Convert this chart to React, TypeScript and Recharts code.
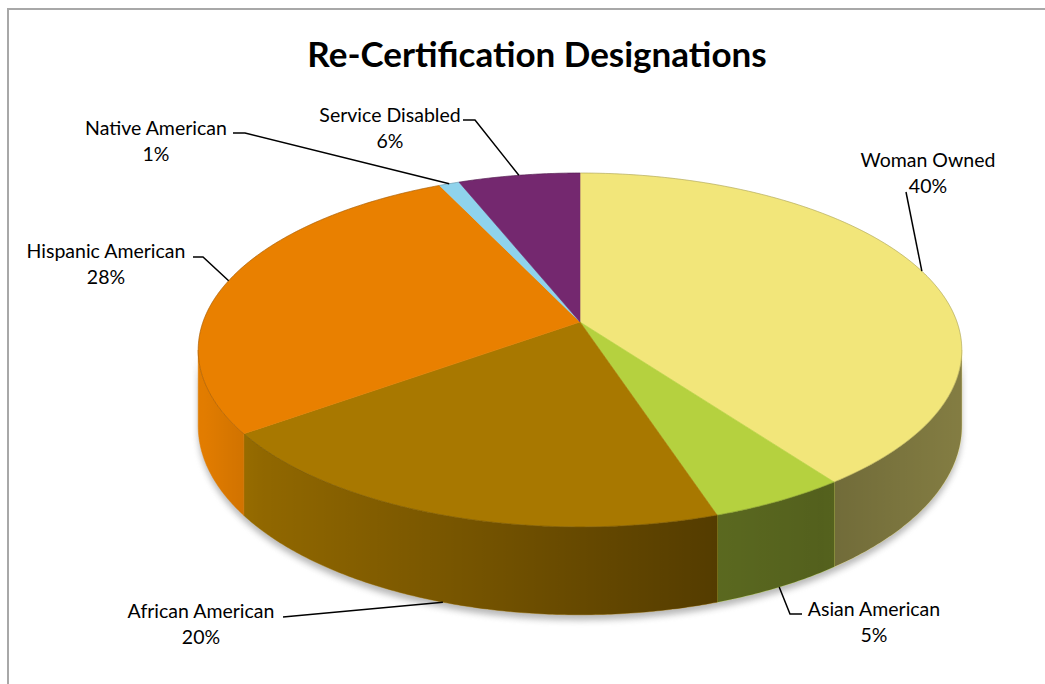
import React from 'react';
import { PieChart, Pie, Cell } from 'recharts';

// chart values
const CATEGORIES = ['Woman Owned', 'Asian American', 'African American', 'Hispanic American', 'Native American', 'Service Disabled'];
const VALUES = [40, 5, 20, 28, 1, 6];
const TOP_COLORS = ['#f2e67a', '#b5d13f', '#a87800', '#e98000', '#8fd3ec', '#74286f'];

// where Excel put each label: text centre / first baseline, leader start, stub length
const LABEL_LAYOUT = [
  { tx: 928, ty: 167, lx: 906, ly: 192, stub: 0 },
  { tx: 874, ty: 616, lx: 802, ly: 614, stub: -12 },
  { tx: 201, ty: 618, lx: 283, ly: 617, stub: 0 },
  { tx: 106, ty: 258, lx: 193, ly: 257, stub: 10 },
  { tx: 156, ty: 135, lx: 233, ly: 133, stub: 12 },
  { tx: 390, ty: 122, lx: 463, ly: 120, stub: 12 },
];

const data = CATEGORIES.map((name, i) => ({ name, value: VALUES[i] }));

// fake 3D: tilt + a bit of perspective + wall depth
const TILT = 0.4576;
const PERSP = 0.158;
const DEPTH = 74;
const RAD = Math.PI / 180;
const WALL_FROM = -180 + Math.asin(PERSP) / RAD; // visible wall range (math degrees)
const WALL_TO = -Math.asin(PERSP) / RAD;
const FONT = 'Lato, "Open Sans", sans-serif';

const project = (cx: number, cy: number, r: number, deg: number, drop = 0) => {
  const u = Math.sin(deg * RAD);
  const v = Math.cos(deg * RAD);
  const w = 1 + PERSP * u;
  return [cx + (r * v) / w, cy - (r * TILT * u) / w + drop / w];
};

const arc = (cx: number, cy: number, r: number, from: number, to: number, drop = 0) => {
  const n = Math.max(2, Math.ceil(Math.abs(to - from) / 0.5));
  const pts: number[][] = [];
  for (let i = 0; i <= n; i++) pts.push(project(cx, cy, r, from + ((to - from) * i) / n, drop));
  return pts;
};

const toPath = (pts: number[][]) => pts.map((p, i) => `${i ? 'L' : 'M'}${p[0].toFixed(2)},${p[1].toFixed(2)}`).join(' ');

const SliceShape = (props: any) => {
  const { cx, cy, outerRadius, startAngle, endAngle, fill, index } = props;
  const rim = toPath(arc(cx, cy, outerRadius, startAngle, endAngle));
  const top = `M${cx},${cy} ` + rim.replace(/^M/, 'L') + ' Z';
  const lo = Math.max(Math.min(startAngle, endAngle), WALL_FROM);
  const hi = Math.min(Math.max(startAngle, endAngle), WALL_TO);
  let wall = '';
  if (hi > lo) {
    wall = toPath([...arc(cx, cy, outerRadius, hi, lo), ...arc(cx, cy, outerRadius, lo, hi, DEPTH)]) + ' Z';
  }
  const shadow =
    toPath([...arc(cx, cy, outerRadius, WALL_TO, WALL_FROM), ...arc(cx, cy, outerRadius, WALL_FROM, WALL_TO, DEPTH + 2)]) + ' Z';
  return (
    <g>
      {index === 0 && (
        <>
          <defs>
            <linearGradient id="wallShade" gradientUnits="userSpaceOnUse" x1={cx - outerRadius} y1={0} x2={cx + outerRadius} y2={0}>
              <stop offset="0" stopColor="#000" stopOpacity={0.03} />
              <stop offset="0.08" stopColor="#000" stopOpacity={0.14} />
              <stop offset="0.35" stopColor="#000" stopOpacity={0.3} />
              <stop offset="0.68" stopColor="#000" stopOpacity={0.5} />
              <stop offset="0.82" stopColor="#000" stopOpacity={0.54} />
              <stop offset="1" stopColor="#000" stopOpacity={0.46} />
            </linearGradient>
            <filter id="pieShadow" x="-10%" y="-10%" width="120%" height="130%">
              <feGaussianBlur stdDeviation="3" />
            </filter>
          </defs>
          <path d={shadow} fill="#7f7f7f" opacity={0.55} transform="translate(0,3)" filter="url(#pieShadow)" />
        </>
      )}
      {wall && (
        <>
          <path d={wall} fill={fill} stroke={fill} strokeWidth={0.5} />
          <path d={wall} fill="url(#wallShade)" />
        </>
      )}
      <path d={top} fill={fill} stroke={fill} strokeWidth={0.6} />
      <path d={rim} fill="none" stroke="rgba(0,0,0,0.18)" strokeWidth={1} />
    </g>
  );
};

const renderLabel = (props: any) => {
  const { cx, cy, outerRadius, startAngle, endAngle, index, name, value } = props;
  const mid = props.midAngle ?? (startAngle + endAngle) / 2;
  const lay = LABEL_LAYOUT[index];
  const onWall = Math.sin(mid * RAD) <= -PERSP;
  const [ex, ey] = project(cx, cy, outerRadius, mid, onWall ? DEPTH : 0);
  const pts = lay.stub ? [[lay.lx, lay.ly], [lay.lx + lay.stub, lay.ly], [ex, ey]] : [[lay.lx, lay.ly], [ex, ey]];
  return (
    <g key={`lbl-${index}`}>
      <polyline points={pts.map((p) => p.join(',')).join(' ')} fill="none" stroke="#000" strokeWidth={1.5} />
      <text x={lay.tx} y={lay.ty} textAnchor="middle" fill="#000" fontFamily={FONT} fontSize={19.5}>
        <tspan x={lay.tx}>{name}</tspan>
        <tspan x={lay.tx} dy={26}>{value}%</tspan>
      </text>
    </g>
  );
};

export default function App() {
  return (
    <div style={{ position: 'absolute', left: 0, top: 0, width: 1045, height: 684, overflow: 'hidden', background: '#fff' }}>
      <div
        style={{
          position: 'absolute', left: 7, top: 8, width: 1100, height: 720,
          border: '2px solid #a8a8a8', boxSizing: 'border-box',
        }}
      />
      <div
        style={{
          position: 'absolute', left: 0, top: 33, width: 1074, textAlign: 'center',
          fontFamily: FONT, fontWeight: 700, fontSize: 35, lineHeight: '40px', color: '#000',
        }}
      >
        Re-Certification Designations
      </div>
      <div style={{ position: 'absolute', left: 0, top: 0 }}>
        <PieChart width={1045} height={684} margin={{ top: 0, right: 0, bottom: 0, left: 0 }}>
          <Pie
            data={data}
            dataKey="value"
            nameKey="name"
            cx={580}
            cy={322}
            outerRadius={377}
            startAngle={90}
            endAngle={-270}
            stroke="none"
            shape={SliceShape}
            label={renderLabel}
            labelLine={false}
            isAnimationActive={false}
          >
            {data.map((d, i) => (
              <Cell key={d.name} fill={TOP_COLORS[i]} />
            ))}
          </Pie>
        </PieChart>
      </div>
    </div>
  );
}
